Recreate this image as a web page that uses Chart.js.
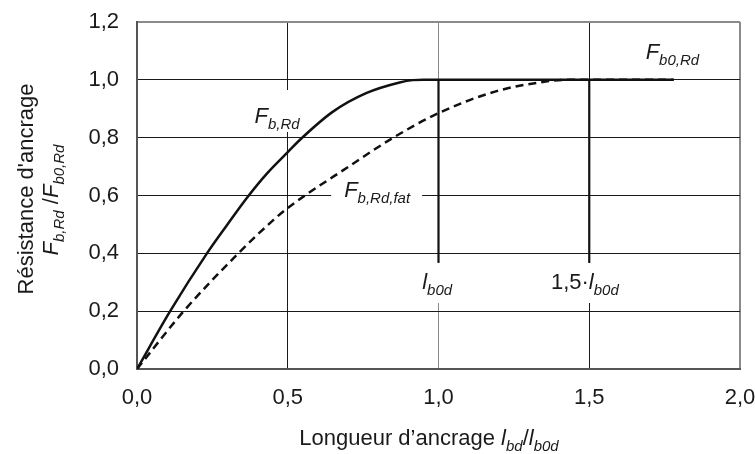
<!DOCTYPE html>
<html lang="fr">
<head>
<meta charset="UTF-8">
<title>Résistance d'ancrage</title>
<style>
  html, body { margin: 0; padding: 0; background: #fff; }
  canvas { display: block; }
</style>
</head>
<body>
<canvas id="chart" width="755" height="454"></canvas>
<script src="https://cdn.jsdelivr.net/npm/chart.js"></script>
<script>
// courbes (l_bd / l_b0d -> F / F_b0,Rd)
const xSolid = [0, 0.11, 0.232, 0.3, 0.363, 0.43, 0.5, 0.545, 0.65, 0.76, 0.871, 0.915, 0.95, 1.0, 1.5, 1.78];
const ySolid = [0, 0.2, 0.4, 0.5, 0.59, 0.675, 0.75, 0.797, 0.89, 0.954, 0.991, 0.999, 1.0, 1.0, 1.0, 1.0];
const xFat = [0, 0.155, 0.336, 0.451, 0.5, 0.705, 0.85, 1.0, 1.19, 1.355, 1.43, 1.5, 1.78];
const yFat = [0, 0.2, 0.4, 0.514, 0.557, 0.702, 0.8, 0.885, 0.96, 0.994, 1.0, 1.0, 1.0];

// traits verticaux a l_b0d et 1,5 l_b0d
const markX = [1.0, 1.5];
const markLow = 0.367;
const markHigh = 1.0;

const xTicks = [0, 0.5, 1.0, 1.5, 2.0];
const yTicks = [0, 0.2, 0.4, 0.6, 0.8, 1.0, 1.2];

const FONT = '"Liberation Sans", Arial, sans-serif';
const SZ = 22, SUB = 15;

function pts(xs, ys) {
    return xs.map((x, i) => ({ x: x, y: ys[i] }));
}

function fmt(v) {
    return v.toFixed(1).replace('.', ',');
}

// runs: [texte, 'n' | 'i' | 's'] (normal, italique, indice italique)
function runFont(kind) {
    if (kind === 'n') return SZ + 'px ' + FONT;
    if (kind === 'i') return 'italic ' + SZ + 'px ' + FONT;
    return 'italic ' + SUB + 'px ' + FONT;
}

function runsWidth(ctx, runs) {
    let w = 0;
    runs.forEach(r => { ctx.font = runFont(r[1]); w += ctx.measureText(r[0]).width; });
    return w;
}

function drawRuns(ctx, x, y, runs) {
    ctx.textBaseline = 'alphabetic';
    ctx.textAlign = 'left';
    ctx.fillStyle = '#1a1a1a';
    runs.forEach(r => {
        ctx.font = runFont(r[1]);
        ctx.fillText(r[0], x, r[1] === 's' ? y + 6 : y);
        x += ctx.measureText(r[0]).width;
    });
}

const labels = [
    { x: 0.39, y: 0.851, runs: [['F', 'i'], ['b,Rd', 's']], box: [-2, 90, 2, 132] },
    { x: 0.687, y: 0.596, runs: [['F', 'i'], ['b,Rd,fat', 's']], box: [-13, 176, 12, 212] },
    { x: 1.687, y: 1.072, runs: [['F', 'i'], ['b0,Rd', 's']], box: null },
    { x: 0.946, y: 0.277, runs: [['l', 'i'], ['b0d', 's']], box: [-2, 263, 2, 303] },
    { x: 1.373, y: 0.277, runs: [['1,5', 'n'], ['\u00b7', 'n'], ['l', 'i'], ['b0d', 's']], box: [-2, 263, 2, 303] }
];

const annotations = {
    id: 'annotations',
    beforeDatasetsDraw(chart) {
        const ctx = chart.ctx;
        const xs = chart.scales.x, ys = chart.scales.y;
        ctx.save();
        labels.forEach(l => {
            const px = xs.getPixelForValue(l.x);
            const py = ys.getPixelForValue(l.y);
            const w = runsWidth(ctx, l.runs);
            if (l.box) {
                ctx.fillStyle = '#fff';
                ctx.fillRect(px + l.box[0], l.box[1], w - l.box[0] + l.box[2], l.box[3] - l.box[1]);
            }
            drawRuns(ctx, px, py, l.runs);
        });
        ctx.restore();
    },
    afterDraw(chart) {
        const ctx = chart.ctx;
        ctx.save();
        // titre axe x
        const xt = [['Longueur d\u2019ancrage ', 'n'], ['l', 'i'], ['bd', 's'], ['/', 'n'], ['l', 'i'], ['b0d', 's']];
        drawRuns(ctx, 429 - runsWidth(ctx, xt) / 2, 445, xt);
        // titre axe y, deux lignes
        const y1 = [['R\u00e9sistance d\'ancrage', 'n']];
        const y2 = [['F', 'i'], ['b,Rd', 's'], [' /', 'n'], ['F', 'i'], ['b0,Rd', 's']];
        ctx.translate(33, 189);
        ctx.rotate(-Math.PI / 2);
        drawRuns(ctx, -runsWidth(ctx, y1) / 2, 0, y1);
        ctx.restore();
        ctx.save();
        ctx.translate(58, 200);
        ctx.rotate(-Math.PI / 2);
        drawRuns(ctx, -runsWidth(ctx, y2) / 2, 0, y2);
        ctx.restore();
    }
};

const markSets = markX.map(v => ({
    data: [{ x: v, y: markLow }, { x: v, y: markHigh }],
    showLine: true,
    borderColor: '#111',
    borderWidth: 2.2,
    pointRadius: 0,
    order: 3
}));

new Chart(document.getElementById('chart'), {
    type: 'scatter',
    data: {
        datasets: [
            {
                label: 'F_b,Rd',
                data: pts(xSolid, ySolid),
                showLine: true,
                borderColor: '#111',
                borderWidth: 2.5,
                pointRadius: 0,
                cubicInterpolationMode: 'monotone',
                order: 1
            },
            {
                label: 'F_b,Rd,fat',
                data: pts(xFat, yFat),
                showLine: true,
                borderColor: '#111',
                borderWidth: 2.5,
                borderDash: [8, 5],
                pointRadius: 0,
                cubicInterpolationMode: 'monotone',
                order: 2
            }
        ].concat(markSets)
    },
    options: {
        responsive: false,
        animation: false,
        devicePixelRatio: 1,
        layout: { padding: { left: 0, top: 22, right: 15, bottom: 0 } },
        plugins: {
            legend: { display: false },
            tooltip: { enabled: false }
        },
        scales: {
            x: {
                type: 'linear',
                min: 0,
                max: 2,
                afterBuildTicks: s => { s.ticks = xTicks.map(v => ({ value: v })); },
                afterFit: s => { s.height = 85; s.paddingLeft = 0; s.paddingRight = 0; },
                ticks: {
                    color: '#1a1a1a',
                    font: { family: FONT, size: SZ },
                    padding: 16,
                    maxRotation: 0,
                    callback: v => fmt(v)
                },
                grid: {
                    drawTicks: false,
                    color: c => (c.tick && (c.tick.value === 1 || c.tick.value === 2)) ? '#8a8a8a' : '#1a1a1a',
                    lineWidth: c => (c.tick && c.tick.value === 2) ? 2 : 1
                },
                border: { color: '#555', width: 2 }
            },
            y: {
                type: 'linear',
                min: 0,
                max: 1.2,
                afterBuildTicks: s => { s.ticks = yTicks.map(v => ({ value: v })); },
                afterFit: s => { s.width = 137; s.paddingTop = 0; s.paddingBottom = 0; },
                ticks: {
                    color: '#1a1a1a',
                    font: { family: FONT, size: SZ },
                    padding: 18,
                    callback: v => fmt(v)
                },
                grid: {
                    drawTicks: false,
                    color: c => (c.tick && c.tick.value > 1.1) ? '#8a8a8a' : '#1a1a1a',
                    lineWidth: c => (c.tick && c.tick.value > 1.1) ? 2 : 1
                },
                border: { color: '#555', width: 2 }
            }
        }
    },
    plugins: [annotations]
});
</script>
</body>
</html>
